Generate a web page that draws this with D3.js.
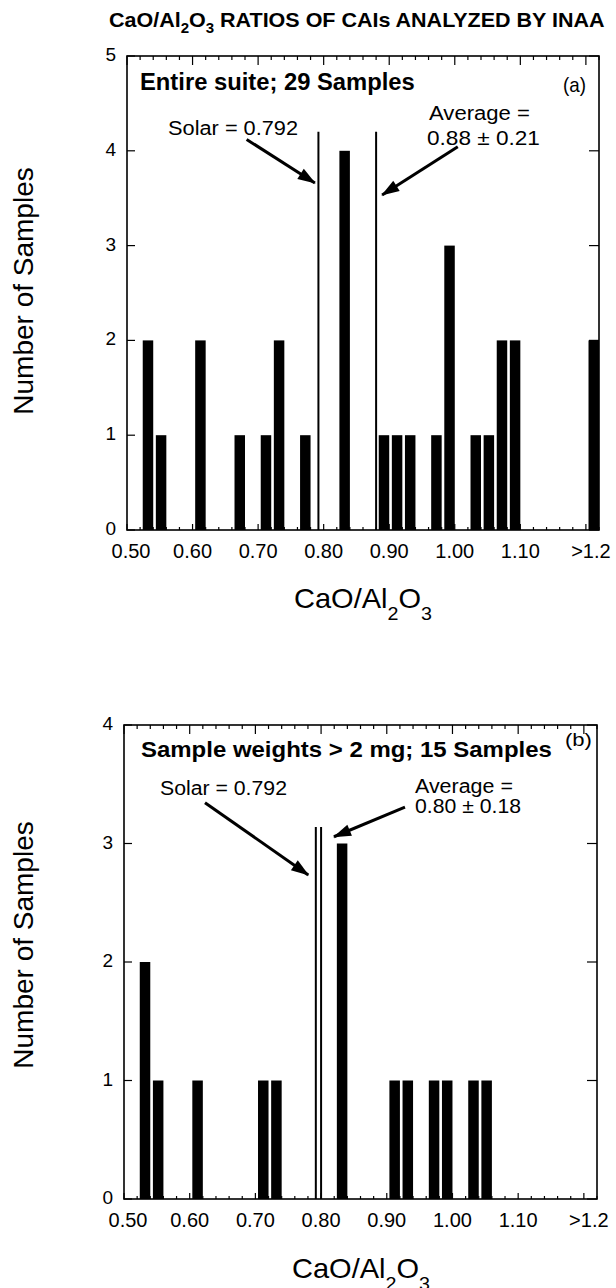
<!DOCTYPE html>
<html><head><meta charset="utf-8">
<script src="https://cdn.jsdelivr.net/npm/d3@7"></script>
<style>html,body{margin:0;padding:0;background:#fff;} svg{display:block;} text{font-family:"Liberation Sans",Arial,Helvetica,sans-serif;fill:#000;}</style>
</head><body>
<script>
// ---------- DATA ----------
const binsA   = [0.52,0.54,0.60,0.66,0.70,0.72,0.76,0.82,0.88,0.90,0.92,0.96,0.98,1.02,1.04,1.06,1.08,1.20];
const countsA = [2,   1,   2,   1,   1,   2,   1,   4,   1,   1,   1,   1,   3,   1,   1,   2,   2,   2];
const binsB   = [0.52,0.54,0.60,0.70,0.72,0.82,0.90,0.92,0.96,0.98,1.02,1.04];
const countsB = [2,   1,   1,   1,   1,   3,   1,   1,   1,   1,   1,   1];
const xTickValues = [0.5,0.6,0.7,0.8,0.9,1.0,1.1,1.2];
const xTickLabels = ["0.50","0.60","0.70","0.80","0.90","1.00","1.10",">1.2"];
const yTicksA = [0,1,2,3,4,5];
const yTicksB = [0,1,2,3,4];
const solarValue = 0.792;
const averageA = 0.88, sdA = 0.21;
const averageB = 0.80, sdB = 0.18;
const panelTitles = ["Entire suite; 29 Samples","Sample weights > 2 mg; 15 Samples"];
const panelTags = ["(a)","(b)"];

// ---------- LAYOUT ----------
const W = 616, H = 1288;
const svg = d3.select("body").append("svg").attr("width", W).attr("height", H);

function fitText(parent, x, y, size, weight, width, anchor, build) {
  const g = parent.append("g").attr("transform", `translate(${x},${y})`);
  const t = g.append("text").attr("font-size", size).attr("font-weight", weight)
    .attr("text-anchor", anchor || "start");
  build(t);
  if (width) {
    const w = t.node().getBBox().width;
    t.attr("transform", `scale(${width / w},1)`);
  }
  return g;
}
function plain(s){ return t => t.text(s); }
function chem(subSize, shift, prefix, suffix) {
  return t => {
    t.append("tspan").text(prefix);
    t.append("tspan").attr("font-size", subSize).attr("dy", shift).text("2");
    t.append("tspan").attr("dy", -shift).text("O");
    t.append("tspan").attr("font-size", subSize).attr("dy", shift).text("3");
    if (suffix) t.append("tspan").attr("dy", -shift).text(suffix);
  };
}

// Main title
fitText(svg, 109, 27, 20, "bold", 496, "start",
  chem(14, 6, "CaO/Al", " RATIOS OF CAIs ANALYZED BY INAA"));

const panels = [
  { bins: binsA, counts: countsA, yMax: 5, yTicks: yTicksA, avg: averageA, sd: sdA,
    left: 127, right: 599, top: 56, bottom: 530, lineTop: 4.2,
    title: {x:140, y:90, size:23, w:275}, tag: {x:563, y:92, size:21, w:23},
    solar: {x:298, y:135, size:21, w:130, anchor:"end"},
    avgTxt1: {x:429, y:120, size:21, w:101}, avgTxt2: {x:427, y:145, size:21, w:113},
    arrSolar: [[0.6825,4.12],[0.7866,3.66]], arrAvg: [[1.0046,4.043],[0.8892,3.534]],
    yTitle: {x:33, y:291}, xTitle: {x:294, y:608} },
  { bins: binsB, counts: countsB, yMax: 4, yTicks: yTicksB, avg: averageB, sd: sdB,
    left: 124, right: 597, top: 725, bottom: 1199, lineTop: 3.14,
    title: {x:141, y:757, size:22, w:411}, tag: {x:565, y:746, size:18, w:27},
    solar: {x:160, y:795, size:20, w:127, anchor:"start"},
    avgTxt1: {x:415, y:793, size:20, w:98}, avgTxt2: {x:415, y:813, size:20, w:106},
    arrSolar: [[0.6233,3.344],[0.7805,2.734]], arrAvg: [[0.9277,3.306],[0.8196,3.057]],
    yTitle: {x:33, y:945}, xTitle: {x:292, y:1278} }
];

// arrow marker
svg.append("defs").append("marker").attr("id","ah")
  .attr("markerUnits","userSpaceOnUse").attr("markerWidth",20).attr("markerHeight",14)
  .attr("viewBox","0 -7 18 14").attr("refX",17).attr("refY",0).attr("orient","auto")
  .append("path").attr("d","M0,-6 L18,0 L0,6 Z").attr("fill","#000");

panels.forEach((p, i) => {
  const x = d3.scaleLinear().domain([0.5, 1.22]).range([p.left, p.right]);
  const y = d3.scaleLinear().domain([0, p.yMax]).range([p.bottom, p.top]);
  const g = svg.append("g");

  // bars
  g.selectAll("rect.bar").data(p.bins.map((b, k) => ({b, c: p.counts[k]}))).join("rect")
    .attr("class","bar")
    .attr("x", d => x(d.b + 0.004)).attr("width", d => x(d.b + 0.020) - x(d.b + 0.004))
    .attr("y", d => y(d.c)).attr("height", d => y(0) - y(d.c)).attr("fill","#000");

  // reference lines
  [solarValue, p.avg].forEach(v => {
    g.append("line").attr("x1", x(v)).attr("x2", x(v)).attr("y1", y(0)).attr("y2", y(p.lineTop))
      .attr("stroke","#000").attr("stroke-width",2);
  });

  // frame
  g.append("rect").attr("x", p.left).attr("y", p.top).attr("width", p.right - p.left)
    .attr("height", p.bottom - p.top).attr("fill","none").attr("stroke","#000").attr("stroke-width",1.6);

  // y ticks and labels
  p.yTicks.forEach(t => {
    g.append("line").attr("x1", p.left).attr("x2", p.left + 8).attr("y1", y(t)).attr("y2", y(t)).attr("stroke","#000").attr("stroke-width",1.2);
    g.append("line").attr("x1", p.right - 10).attr("x2", p.right).attr("y1", y(t)).attr("y2", y(t)).attr("stroke","#000").attr("stroke-width",1.2);
    g.append("text").attr("x", p.left - 11).attr("y", y(t) + 5).attr("text-anchor","end")
      .attr("font-size", 19).text(t);
  });

  // x ticks (major + minor)
  const minor = d3.range(0, 37).map(k => 0.5 + k * 0.02);
  minor.forEach(v => {
    const isMajor = xTickValues.some(m => Math.abs(m - v) < 1e-6);
    g.append("line").attr("x1", x(v)).attr("x2", x(v)).attr("y1", p.top).attr("y2", p.top + (isMajor ? 9 : 4)).attr("stroke","#000").attr("stroke-width",1.2);
    g.append("line").attr("x1", x(v)).attr("x2", x(v)).attr("y1", p.bottom).attr("y2", p.bottom - (isMajor ? 6 : 3)).attr("stroke","#000").attr("stroke-width",1.2);
  });
  xTickValues.forEach((v, k) => {
    g.append("text").attr("x", x(v) + (k === 0 ? 4 : k === xTickValues.length - 1 ? 5 : 0))
      .attr("y", p.bottom + 28).attr("text-anchor","middle").attr("font-size", 20).text(xTickLabels[k]);
  });

  // panel heading & tag
  fitText(g, p.title.x, p.title.y, p.title.size, "bold", p.title.w, "start", plain(panelTitles[i]));
  fitText(g, p.tag.x, p.tag.y, p.tag.size, "normal", p.tag.w, "start", plain(panelTags[i]));

  // annotations
  fitText(g, p.solar.x, p.solar.y, p.solar.size, "normal", p.solar.w, p.solar.anchor, plain("Solar = " + solarValue.toFixed(3)));
  fitText(g, p.avgTxt1.x, p.avgTxt1.y, p.avgTxt1.size, "normal", p.avgTxt1.w, "start", plain("Average ="));
  fitText(g, p.avgTxt2.x, p.avgTxt2.y, p.avgTxt2.size, "normal", p.avgTxt2.w, "start",
    plain(p.avg.toFixed(2) + " \u00B1 " + p.sd.toFixed(2)));

  [p.arrSolar, p.arrAvg].forEach(a => {
    g.append("line").attr("x1", x(a[0][0])).attr("y1", y(a[0][1]))
      .attr("x2", x(a[1][0])).attr("y2", y(a[1][1]))
      .attr("stroke","#000").attr("stroke-width",3).attr("marker-end","url(#ah)");
  });

  // axis titles
  const yt = g.append("g").attr("transform", `translate(${p.yTitle.x},${p.yTitle.y}) rotate(-90)`);
  yt.append("text").attr("text-anchor","middle").attr("font-size", 28).text("Number of Samples");
  fitText(g, p.xTitle.x, p.xTitle.y, 28, "normal", 138, "start", chem(19, 12, "CaO/Al"));
});
</script>
</body></html>
